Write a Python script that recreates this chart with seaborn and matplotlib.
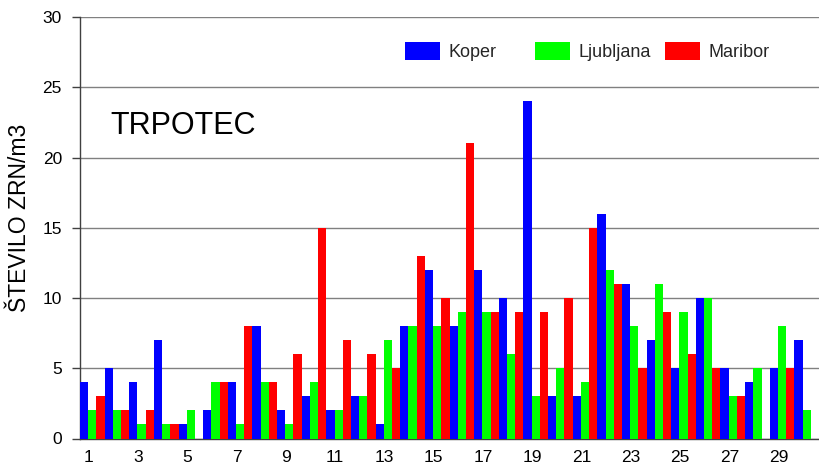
import numpy as np
import pandas as pd
import matplotlib
matplotlib.use("Agg")
import matplotlib.pyplot as plt
import matplotlib.transforms as mtransforms
import seaborn as sns

days = list(range(1, 31))
koper = [4, 5, 4, 7, 1, 2, 4, 8, 2, 3, 2, 3, 1, 8, 12, 8, 12, 10, 24, 3, 3, 16, 11, 7, 5, 10, 5, 4, 5, 7]
ljubljana = [2, 2, 1, 1, 2, 4, 1, 4, 1, 4, 2, 3, 7, 8, 8, 9, 9, 6, 3, 5, 4, 12, 8, 11, 9, 10, 3, 5, 8, 2]
maribor = [3, 2, 2, 1, 0, 4, 8, 4, 6, 15, 7, 6, 5, 13, 10, 21, 9, 9, 9, 10, 15, 11, 5, 9, 6, 5, 3, 0, 5, np.nan]
cities = ["Koper", "Ljubljana", "Maribor"]
colors = ["#0000FF", "#00FF00", "#FF0000"]
tick_days = [d for d in days if d % 2 == 1]
title_text = "TRPOTEC"
ylabel_text = "ŠTEVILO ZRN/m3"

df = pd.DataFrame({"day": days, "Koper": koper, "Ljubljana": ljubljana, "Maribor": maribor})
long = df.melt(id_vars="day", var_name="city", value_name="value")

sns.set_theme(style="white")
plt.rcParams["font.family"] = ["Liberation Sans", "DejaVu Sans"]

W, H = 819, 472
fig = plt.figure(figsize=(W / 100, H / 100), dpi=100)
ax = fig.add_axes([80 / W, (H - 438.5) / H, 739 / W, (438.5 - 17) / H])

sns.barplot(data=long, x="day", y="value", hue="city", hue_order=cities,
            palette=colors, saturation=1, width=1.0, errorbar=None,
            linewidth=0, ax=ax, zorder=3)

ax.set_ylim(0, 30)
ax.set_xlim(-0.5, -0.5 + 739 / 24.93)
ax.set_yticks(range(0, 31, 5))
ax.yaxis.grid(True, color="#808080", linewidth=1.0, zorder=0)
ax.set_axisbelow(True)

ax.set_xticks([d - 1 for d in tick_days])
ax.set_xticklabels([str(d) for d in tick_days])
ax.set_xticks([i - 0.5 for i in range(0, 31)], minor=True)
ax.tick_params(axis="x", which="major", length=0, labelsize=12.5, pad=8, colors="black")
ax.tick_params(axis="x", which="minor", length=4, width=1, color="#404040", direction="out")
ax.tick_params(axis="y", which="major", length=6, width=1, color="#404040", direction="out",
               labelsize=12.5, pad=7, labelcolor="black", left=True)
shift = mtransforms.ScaledTranslation(-3.5 / 100, 0, fig.dpi_scale_trans)
for lab in ax.get_xticklabels():
    lab.set_transform(lab.get_transform() + shift)

for s in ["top", "right"]:
    ax.spines[s].set_visible(False)
for s in ["left", "bottom"]:
    ax.spines[s].set_color("#404040")
    ax.spines[s].set_linewidth(1.0)

ax.set_xlabel("")
ax.set_ylabel(ylabel_text, fontsize=16.5, color="black")
ax.yaxis.set_label_coords((31 - 80) / 739, (438.5 - 218) / 421.5)

fig.text(110 / W, 1 - 134 / H, title_text, fontsize=22, color="black",
         ha="left", va="baseline")

handles, labels = ax.get_legend_handles_labels()
if ax.get_legend() is not None:
    ax.get_legend().remove()
legend_x = [405, 535, 665]
for h, l, lx in zip(handles, labels, legend_x):
    leg = fig.legend([h], [l], loc="upper left", frameon=False,
                     bbox_to_anchor=(lx / W, 1 - 42 / H), bbox_transform=fig.transFigure,
                     borderaxespad=0, borderpad=0, fontsize=13,
                     handlelength=1.95, handleheight=1.15, handletextpad=0.45)

fig.savefig("out.png", dpi=100)
